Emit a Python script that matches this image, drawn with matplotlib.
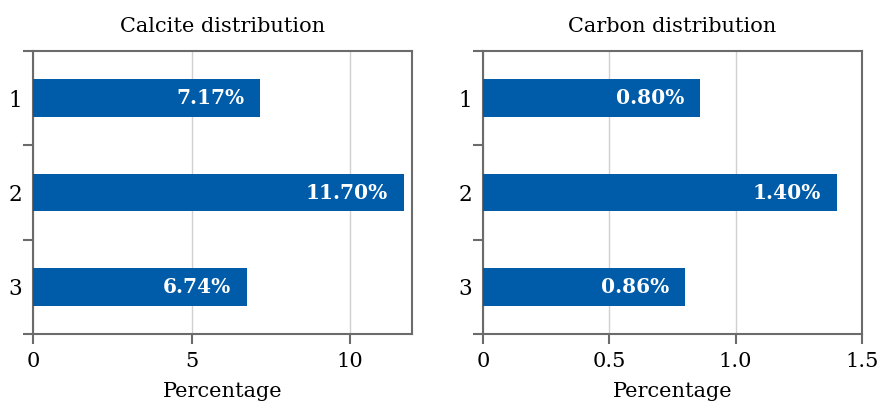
import matplotlib
matplotlib.use("Agg")
import matplotlib.pyplot as plt
from matplotlib.ticker import FixedLocator, NullFormatter

categories = ["1", "2", "3"]
calcite_values = [7.16, 11.70, 6.74]
calcite_labels = ["7.17%", "11.70%", "6.74%"]
carbon_values = [0.86, 1.40, 0.80]
carbon_labels = ["0.80%", "1.40%", "0.86%"]
calcite_ticks = [0, 5, 10]
calcite_ticklabels = ["0", "5", "10"]
carbon_ticks = [0, 0.5, 1.0, 1.5]
carbon_ticklabels = ["0", "0.5", "1.0", "1.5"]

plt.rcParams['font.family'] = ['DejaVu Serif']
BAR = "#005CA8"
SPINE = "#6b6b6b"

fig = plt.figure(figsize=(8.89, 4.03), dpi=100)
W, H = 889, 403

def make_ax(left, right, values, labels, title, ticks, ticklabels, xmax):
    ax = fig.add_axes([left / W, 1 - 334 / H, (right - left) / W, (334 - 51) / H])
    y = list(range(len(categories)))
    ax.barh(y, values, height=0.4, color=BAR, zorder=3)
    for yi, v, lab in zip(y, values, labels):
        ax.annotate(lab, xy=(v, yi), xytext=(-11.5, 0), textcoords="offset points",
                    ha="right", va="center", color="white",
                    fontsize=14.5, fontweight="bold", zorder=4)
    ax.set_ylim(len(categories) - 0.5, -0.5)
    ax.set_xlim(0, xmax)
    ax.set_yticks(y)
    ax.set_yticklabels(categories)
    ax.yaxis.set_minor_locator(FixedLocator([-0.5, 0.5, 1.5, 2.5]))
    ax.yaxis.set_minor_formatter(NullFormatter())
    ax.tick_params(axis="y", which="major", length=0, pad=8, labelsize=15.5)
    ax.tick_params(axis="y", which="minor", length=7, width=1.5, color=SPINE)
    ax.set_xticks(ticks)
    ax.set_xticklabels(ticklabels)
    ax.tick_params(axis="x", length=7, width=1.5, color=SPINE, labelsize=15, pad=6)
    ax.grid(axis="x", color="#d0d0d0", linewidth=1, zorder=0)
    for s in ax.spines.values():
        s.set_color(SPINE)
        s.set_linewidth(1.5)
    ax.set_title(title, fontsize=15, pad=14)
    ax.set_xlabel("Percentage", fontsize=15, labelpad=8)
    return ax

make_ax(33, 412, calcite_values, calcite_labels, "Calcite distribution",
        calcite_ticks, calcite_ticklabels, 11.95)
make_ax(483, 862, carbon_values, carbon_labels, "Carbon distribution",
        carbon_ticks, carbon_ticklabels, 1.5)

fig.savefig("out.png", dpi=100)
